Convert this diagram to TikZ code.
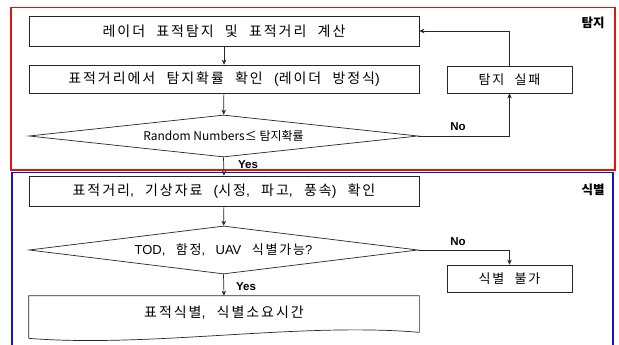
\documentclass[tikz,border=0pt]{standalone}
\usepackage{fontspec}
\usetikzlibrary{shapes.geometric,arrows.meta,calc}
\newfontfamily\krs[LetterSpace=14,WordSpace=2.2]{Noto Sans CJK KR}
\newfontfamily\krm[LetterSpace=14,WordSpace=2.2]{Noto Sans CJK KR}
\newfontfamily\kr{Noto Sans CJK KR}
\newfontfamily\lab{Liberation Sans}
\newcommand\lp[1]{{\lab #1}}
\definecolor{fr}{RGB}{225,20,20}
\definecolor{fb}{RGB}{20,20,200}
\tikzset{
  procbox/.style={draw=black!85,line width=0.7pt,minimum width=390pt,inner sep=0pt,font=\krs\fontsize{14}{16}\selectfont},
  sidebox/.style={draw=black!85,line width=0.7pt,minimum width=125pt,minimum height=27pt,inner sep=0pt,font=\krm\fontsize{13}{15}\selectfont},
  decide/.style={diamond,draw=black!85,line width=0.7pt,shape aspect=9,minimum width=389pt,inner sep=0pt},
  arr/.style={draw=black!85,line width=0.7pt,-{Stealth[length=5pt,width=4.5pt]}},
  yn/.style={font=\lab\bfseries\fontsize{11.5}{13}\selectfont,inner sep=0pt},
  sect/.style={font=\kr\bfseries\fontsize{12.5}{14}\selectfont,inner sep=0pt},
}
\begin{document}
\begin{tikzpicture}[x=1pt,y=-1pt]
\useasboundingbox (0,0) rectangle (619,345);
\fill[white] (0,0) rectangle (619,345);
% frames
\draw[fr,line width=1.6pt] (11,7.5) rectangle (615,170);
\begin{scope}
\clip (0,0) rectangle (619,345);
\draw[fb,line width=1.6pt] (12,172.5) rectangle (613,352);
\end{scope}
\node[sect] (tamji) at (593,23) {탐지};
\node[sect] (sikbyeol) at (593,190) {식별};
% detection part
\node[procbox,minimum height=30pt] (box1) at (224,31) {레이더 표적탐지 및 표적거리 계산};
\node[procbox,minimum height=28pt] (box2) at (224,79) {표적거리에서 탐지확률 확인 \lp{(}레이더 방정식\lp{)}};
\node[decide,minimum height=42pt,font=\kr\fontsize{12}{14}\selectfont] (dia1) at (223.5,136) {Random Numbers≤ 탐지확률};
\node[sidebox] (fail) at (509.5,79.5) {탐지 실패};
% identification part
\node[procbox,minimum height=30pt] (box3) at (224,191) {표적거리\lp{,} 기상자료 \lp{(}시정\lp{,} 파고\lp{,} 풍속\lp{)} 확인};
\node[decide,minimum height=48pt,font=\krm\fontsize{13}{15}\selectfont] (dia2) at (223.5,250) {\lp{TOD,} 함정\lp{,} \lp{UAV} 식별가능\lp{?}};
\node[procbox,minimum height=34pt,draw=none] (box4) at (224,313) {표적식별\lp{,} 식별소요시간};
\draw[draw=black!85,line width=0.7pt] (box4.north west) -- (box4.north east) -- ($(box4.south east)+(0,2)$)
  .. controls (300,322) and (150,348) .. ($(box4.south west)+(0,8)$) -- cycle;
\node[sidebox] (unable) at (509.5,278.5) {식별 불가};
% connectors
\draw[arr] (box1) -- (box2);
\draw[arr] (box2) -- (dia1);
\draw[arr] (dia1.south) -- (box3.north);
\draw[arr] (dia1.east) -| (fail.south);
\draw[arr] (fail.north) |- (box1.east);
\draw[arr] (box3) -- (dia2);
\draw[arr] (dia2.south) -- (box4.north);
\draw[arr] (dia2.east) -| (unable.north);
% labels
\node[yn] (yes1) at (248,165) {Yes};
\node[yn] (no1) at (458,127) {No};
\node[yn] (yes2) at (246,287) {Yes};
\node[yn] (no2) at (458,242) {No};
\end{tikzpicture}
\end{document}
